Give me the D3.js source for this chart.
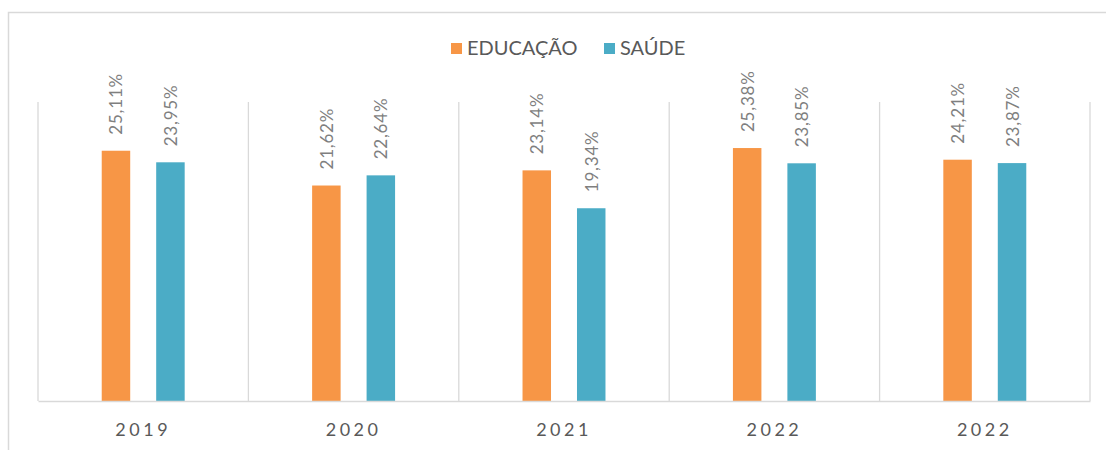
<!DOCTYPE html>
<html>
<head>
<meta charset="utf-8">
<script src="https://cdn.jsdelivr.net/npm/d3@7"></script>
<style>
  body { margin: 0; background: #fff; }
  svg { font-family: Lato, "Open Sans", sans-serif; }
</style>
</head>
<body>
<script>
// chart values
const years = ['2019', '2020', '2021', '2022', '2022 '];
const seriesNames = ['EDUCAÇÃO', 'SAÚDE'];
const educacao = [25.11, 21.62, 23.14, 25.38, 24.21];
const saude = [23.95, 22.64, 19.34, 23.85, 23.87];
const colors = ['#F79646', '#4BACC6'];

const width = 1106, height = 450;
const plot = { left: 38, right: 1090, top: 102, bottom: 401 };

const svg = d3.select('body').append('svg')
  .attr('width', width)
  .attr('height', height);

// outer chart frame (only top and left visible)
svg.append('path')
  .attr('d', 'M8.5,' + height + 'V12.5H' + width)
  .attr('fill', 'none')
  .attr('stroke', '#d9d9d9')
  .attr('stroke-width', 1.5);

const x = d3.scaleBand().domain(years).range([plot.left, plot.right]);
const y = d3.scaleLinear().domain([0, 30]).range([plot.bottom, plot.top]);
const inner = d3.scaleBand().domain(seriesNames).range([0, x.bandwidth()])
  .paddingInner(0.477).paddingOuter(1.17);

// vertical gridlines at category borders
const borders = years.map(d => x(d)).concat([plot.right]);
svg.append('g').selectAll('line').data(borders).join('line')
  .attr('x1', d => d).attr('x2', d => d)
  .attr('y1', plot.top).attr('y2', plot.bottom)
  .attr('stroke', '#d9d9d9').attr('stroke-width', 1.3);

const rows = years.map((yr, i) => ({ yr, vals: [educacao[i], saude[i]] }));

const groups = svg.append('g').selectAll('g').data(rows).join('g')
  .attr('transform', d => 'translate(' + x(d.yr) + ',0)');

groups.selectAll('rect').data(d => d.vals.map((v, j) => ({ v, s: seriesNames[j], j })))
  .join('rect')
  .attr('x', d => inner(d.s))
  .attr('width', inner.bandwidth())
  .attr('y', d => y(d.v))
  .attr('height', d => y(0) - y(d.v))
  .attr('fill', d => colors[d.j]);

groups.selectAll('text').data(d => d.vals.map((v, j) => ({ v, s: seriesNames[j] })))
  .join('text')
  .attr('transform', d => 'translate(' + (inner(d.s) + inner.bandwidth() / 2 + 6.5) + ',' + (y(d.v) - 16) + ') rotate(-90)')
  .attr('font-size', 17)
  .attr('letter-spacing', 0.8)
  .attr('fill', '#7f7f7f')
  .text(d => d.v.toFixed(2).replace('.', ',') + '%');

// baseline / x axis
const xAxis = svg.append('g')
  .attr('transform', 'translate(0,' + plot.bottom + ')')
  .call(d3.axisBottom(x).tickSize(0).tickPadding(22));
xAxis.select('.domain').attr('stroke', '#d9d9d9').attr('stroke-width', 1.5);
xAxis.selectAll('text')
  .attr('font-family', 'Lato, "Open Sans", sans-serif')
  .attr('font-size', 18)
  .attr('letter-spacing', 3.5)
  .attr('fill', '#595959')
  .text(d => d.trim());

// legend
const legend = svg.append('g').attr('transform', 'translate(451,43)');
const legendX = [0, 153];
seriesNames.forEach((name, i) => {
  const g = legend.append('g').attr('transform', 'translate(' + legendX[i] + ',0)');
  g.append('rect').attr('width', 11).attr('height', 11).attr('fill', colors[i]);
  g.append('text').attr('x', 16).attr('y', 11.5)
    .attr('font-size', 20).attr('fill', '#595959')
    .text(name);
});
</script>
</body>
</html>
